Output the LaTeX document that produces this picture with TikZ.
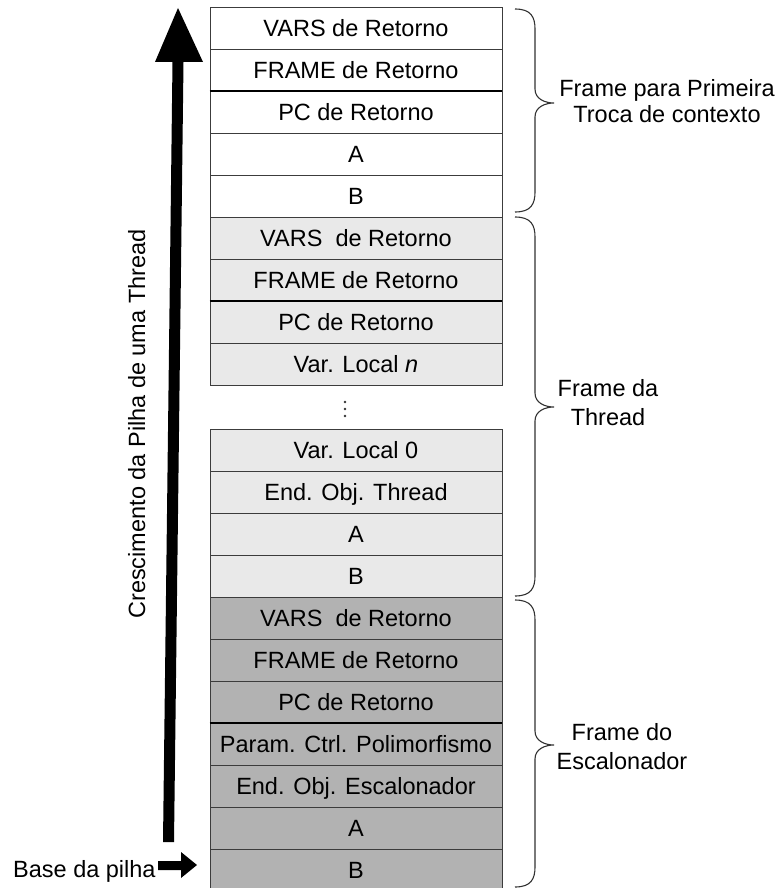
\documentclass[tikz,border=0pt]{standalone}
\usepackage{fontspec}
\setmainfont{Liberation Sans}
\definecolor{lightcell}{RGB}{233,233,233}
\definecolor{darkcell}{RGB}{178,178,178}
\definecolor{edgegray}{RGB}{60,60,60}
\definecolor{bracegray}{RGB}{50,50,50}
\newcommand{\stackbrace}[3]{%
  \draw[bracegray, line width=1.1pt]
    (515,#1) .. controls (531,#1) and (535,{#1+8}) .. (535,{#1+20})
    -- (535,{#2-14}) .. controls (535,{#2-4}) and (545,#2) .. (554,#2)
    .. controls (545,#2) and (535,{#2+4}) .. (535,{#2+14})
    -- (535,{#3-20}) .. controls (535,{#3-8}) and (531,#3) .. (515,#3);}
\begin{document}
\begin{tikzpicture}[x=1pt,y=-1pt,
  cell/.style={draw=edgegray, line width=0.9pt, minimum width=292pt, minimum height=42pt,
    inner sep=0pt, text height=16.8pt, text depth=0pt,
    font=\fontsize{23.5}{28}\selectfont},
  lbl/.style={anchor=base, inner sep=0pt, font=\fontsize{23.5}{28}\selectfont},
  sep/.style={black, line width=2pt},
  dot/.style={fill=black!80, circle, inner sep=0pt, minimum size=2.6pt}]
\useasboundingbox (0,0) rectangle (780,888);
\clip (0,0) rectangle (780,888);
\fill[white] (0,0) rectangle (780,888);

% stack cells
\foreach \i/\yt/\c/\t in {
  0/7/white/VARS de Retorno,
  1/49/white/FRAME de Retorno,
  2/91/white/PC de Retorno,
  3/133/white/A,
  4/175/white/B,
  5/217/lightcell/VARS~~de Retorno,
  6/259/lightcell/FRAME de Retorno,
  7/301/lightcell/PC de Retorno,
  8/343/lightcell/{Var. Local \textit{n}},
  9/429/lightcell/Var. Local 0,
  10/471/lightcell/End. Obj. Thread,
  11/513/lightcell/A,
  12/555/lightcell/B,
  13/597/darkcell/VARS~~de Retorno,
  14/639/darkcell/FRAME de Retorno,
  15/681/darkcell/PC de Retorno,
  16/723/darkcell/Param. Ctrl. Polimorfismo,
  17/765/darkcell/End. Obj. Escalonador,
  18/807/darkcell/A,
  19/849/darkcell/B}
  \node[cell, fill=\c] (r\i) at (356,{\yt+21}) {\t};

% thicker separators
\draw[sep] (r1.south west) -- (r1.south east);
\draw[sep] (r6.south west) -- (r6.south east);
\draw[sep] (r15.south west) -- (r15.south east);

% ellipsis (three dots)
\node[dot] (d1) at (345,402) {};
\node[dot] (d2) at (345,409) {};
\node[dot] (d3) at (345,416) {};

% braces
\stackbrace{9}{103}{212}
\stackbrace{217}{407}{596}
\stackbrace{600}{745}{887}

% brace labels
\node[lbl] (l1a) at (667,97) {Frame para Primeira};
\node[lbl] (l1b) at (667,122) {Troca de contexto};
\node[lbl] (l2a) at (608,396) {Frame da};
\node[lbl] (l2b) at (608,425) {Thread};
\node[lbl] (l3a) at (622,740) {Frame do};
\node[lbl] (l3b) at (622,769) {Escalonador};

% growth arrow
\fill[black] (178,8) -- (203,62) -- (183.5,62) -- (174,842) -- (163,842) -- (172.5,62) -- (155,62) -- cycle;
\node[lbl, rotate=90] (grow) at (145,424) {Crescimento da Pilha de uma Thread};

% base of stack
\node[lbl, anchor=base west] (base) at (13,877) {Base da pilha};
\fill[black] (158,861) -- (181,861) -- (181,852) -- (197,865) -- (181,878) -- (181,870) -- (158,870) -- cycle;
\end{tikzpicture}
\end{document}
